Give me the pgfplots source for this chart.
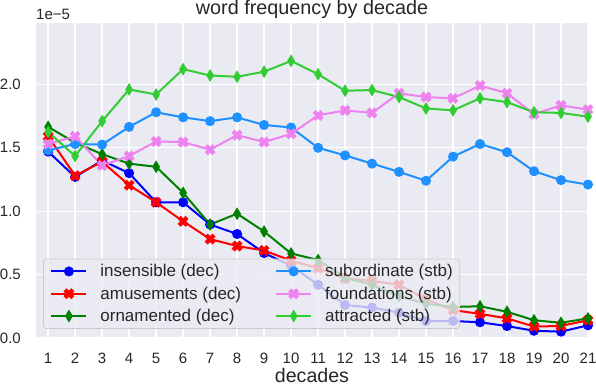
\documentclass[border=0pt]{standalone}
\usepackage{fontspec}
\setmainfont{Liberation Sans}
\usepackage{pgfplots}
\pgfplotsset{compat=1.18}

\definecolor{axbg}{HTML}{EAEAF2}
\definecolor{txt}{HTML}{262626}
\definecolor{cins}{RGB}{0,0,255}
\definecolor{camu}{RGB}{255,0,0}
\definecolor{corn}{RGB}{0,128,0}
\definecolor{csub}{RGB}{30,144,255}
\definecolor{cfou}{RGB}{238,130,238}
\definecolor{catt}{RGB}{50,205,50}

% filled X marker (matplotlib 'X')
\pgfdeclareplotmark{Xf}{%
  \pgftransformrotate{45}%
  \pgfpathmoveto{\pgfpoint{-0.4\pgfplotmarksize}{1.2\pgfplotmarksize}}%
  \pgfpathlineto{\pgfpoint{0.4\pgfplotmarksize}{1.2\pgfplotmarksize}}%
  \pgfpathlineto{\pgfpoint{0.4\pgfplotmarksize}{0.4\pgfplotmarksize}}%
  \pgfpathlineto{\pgfpoint{1.2\pgfplotmarksize}{0.4\pgfplotmarksize}}%
  \pgfpathlineto{\pgfpoint{1.2\pgfplotmarksize}{-0.4\pgfplotmarksize}}%
  \pgfpathlineto{\pgfpoint{0.4\pgfplotmarksize}{-0.4\pgfplotmarksize}}%
  \pgfpathlineto{\pgfpoint{0.4\pgfplotmarksize}{-1.2\pgfplotmarksize}}%
  \pgfpathlineto{\pgfpoint{-0.4\pgfplotmarksize}{-1.2\pgfplotmarksize}}%
  \pgfpathlineto{\pgfpoint{-0.4\pgfplotmarksize}{-0.4\pgfplotmarksize}}%
  \pgfpathlineto{\pgfpoint{-1.2\pgfplotmarksize}{-0.4\pgfplotmarksize}}%
  \pgfpathlineto{\pgfpoint{-1.2\pgfplotmarksize}{0.4\pgfplotmarksize}}%
  \pgfpathlineto{\pgfpoint{-0.4\pgfplotmarksize}{0.4\pgfplotmarksize}}%
  \pgfpathclose
  \pgfusepathqfillstroke
}

% values in units of 1e-5
\pgfplotstableread{
dec ins  amu   orn   sub   fou   att
1   1.47 1.59  1.665 1.48  1.53  1.625
2   1.27 1.28  1.54  1.53  1.59  1.435
3   1.40 1.39  1.45  1.525 1.36  1.71
4   1.30 1.205 1.375 1.665 1.435 1.96
5   1.07 1.07  1.35  1.78  1.55  1.92
6   1.07 0.92  1.145 1.74  1.545 2.12
7   0.895 0.78 0.895 1.71  1.485 2.07
8   0.82 0.725 0.98  1.74  1.60  2.06
9   0.67 0.69  0.84  1.68  1.545 2.10
10  0.57 0.61  0.667 1.66  1.61  2.185
11  0.42 0.55  0.615 1.50  1.755 2.08
12  0.26 0.47  0.475 1.44  1.795 1.95
13  0.24 0.45  0.42  1.375 1.775 1.955
14  0.20 0.42  0.33  1.31  1.93  1.90
15  0.134 0.305 0.27 1.24  1.90  1.81
16  0.134 0.22 0.245 1.43  1.89  1.795
17  0.124 0.19 0.25  1.53  1.99  1.89
18  0.094 0.155 0.207 1.465 1.93 1.86
19  0.057 0.09 0.14  1.315 1.765 1.78
20  0.05 0.095 0.12  1.245 1.835 1.775
21  0.10 0.14  0.155 1.21  1.80  1.745
}\freq

\begin{document}
\begin{tikzpicture}
\begin{axis}[
    scale only axis,
    width=552bp, height=315bp,
    xmin=0.55, xmax=21,
    ymin=0, ymax=2.484,
    xtick={1,...,21},
    ytick={0,0.5,1,1.5,2},
    axis background/.style={fill=axbg},
    axis line style={draw=none},
    major tick length=0pt,
    grid=major,
    grid style={white, line width=1.3bp},
    /pgf/number format/assume math mode=true,
    yticklabel style={/pgf/number format/fixed, /pgf/number format/fixed zerofill, /pgf/number format/precision=1},
    every tick label/.append style={font=\fontsize{15bp}{18bp}\selectfont, text=txt, inner sep=0pt},
    xticklabel style={yshift=-15bp},
    yticklabel style={xshift=-15bp},
    title={word frequency by decade},
    every axis title/.style={font=\fontsize{19.8bp}{23bp}\selectfont, text=txt, at={(axis description cs:0.5,1)}, anchor=base, yshift=8bp, inner sep=0pt},
    xlabel={decades},
    every axis x label/.style={at={(axis description cs:0.5,0)}, anchor=base, yshift=-44.5bp, font=\fontsize{19.6bp}{23bp}\selectfont, text=txt, inner sep=0pt},
    legend columns=3,
    transpose legend,
    legend cell align=left,
    legend image code/.code={\draw[mark repeat=2,mark phase=2,#1] plot coordinates {(0bp,0bp) (17.5bp,0bp) (35bp,0bp)};},
    legend image post style={opacity=1},
    legend style={at={(0.0127,0.029)}, anchor=south west,
        fill=axbg, fill opacity=0.8, draw opacity=1, text opacity=1, draw=black!20,
        line width=0.8bp, rounded corners=3bp,
        font=\fontsize{17bp}{20bp}\selectfont, text=txt,
        inner xsep=7bp, inner ysep=5.5bp, row sep=8.5bp,
        nodes={inner sep=0pt},
        column sep=13bp,
        /tikz/every even column/.append style={column sep=34bp}},
    every axis plot/.append style={line width=2bp},
]
\addplot[cins, mark=*, mark size=4.5bp, mark options={solid, line width=1bp}] table[x=dec, y=ins] {\freq};
\addplot[camu, mark=Xf, mark size=4.3bp, mark options={solid, line width=0.8bp}] table[x=dec, y=amu] {\freq};
\addplot[corn, mark=diamond*, mark size=5.5bp, mark options={solid, xscale=0.8, line width=1bp}] table[x=dec, y=orn] {\freq};
\addplot[csub, mark=*, mark size=4.5bp, mark options={solid, line width=1bp}] table[x=dec, y=sub] {\freq};
\addplot[cfou, mark=Xf, mark size=4.3bp, mark options={solid, line width=0.8bp}] table[x=dec, y=fou] {\freq};
\addplot[catt, mark=diamond*, mark size=5.5bp, mark options={solid, xscale=0.8, line width=1bp}] table[x=dec, y=att] {\freq};
\legend{insensible (dec), amusements (dec), ornamented (dec), subordinate (stb), foundations (stb), attracted (stb)}
\coordinate (O) at (rel axis cs:0,0);
\coordinate (T) at (rel axis cs:0,1);
\end{axis}
\node[anchor=base west, inner sep=0pt, font=\fontsize{15bp}{18bp}\selectfont, text=txt] at ([yshift=3bp]T) {1e−5};
\pgfresetboundingbox
\path (O) ++(-36bp,-48bp) rectangle ++(596bp,386bp);
\end{tikzpicture}
\end{document}
